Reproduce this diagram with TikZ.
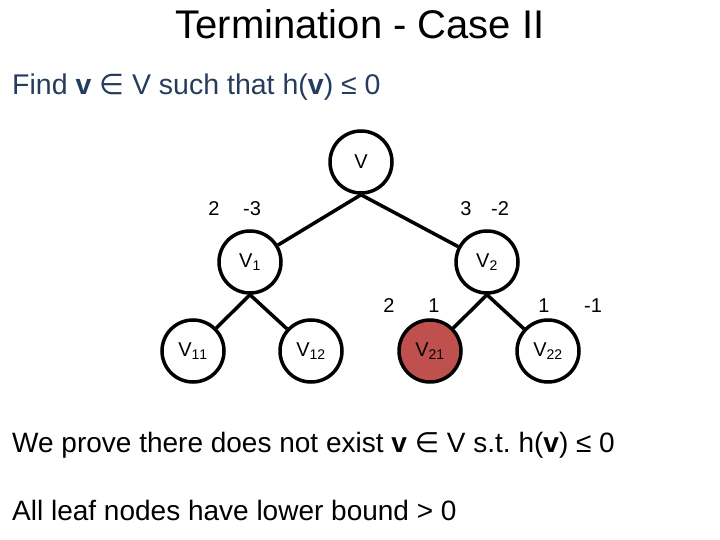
\documentclass[tikz,border=0pt]{standalone}
\usepackage{fontspec}
\setmainfont{Liberation Sans}
\newfontfamily\symfont{DejaVu Sans}
\definecolor{findblue}{RGB}{38,60,92}
\definecolor{leafred}{RGB}{192,80,77}
\newcommand{\elem}{{\symfont\char"2208}}
\frenchspacing
\begin{document}
\begin{tikzpicture}[x=1pt,y=-1pt,
  tnode/.style={circle,draw=black,line width=3.5pt,minimum size=62pt,inner sep=0pt,fill=white,font=\fontsize{20}{22}\selectfont},
  edge/.style={line width=3.5pt},
  lbl/.style={font=\fontsize{20}{24}\selectfont,anchor=base}]
\useasboundingbox (0,0) rectangle (720,540);
\node[anchor=base,font=\fontsize{40}{44}\selectfont] (title) at (360,39) {Termination - Case II};
\node[anchor=base west,inner sep=0pt,text=findblue,font=\fontsize{28.5}{32}\selectfont] (find) at (12,95) {Find \textbf{v} \elem{} V such that h(\textbf{v}) ≤ 0};
\node[tnode] (V) at (361,162) {V};
\node[tnode] (V1) at (250,262) {V$_{\mathrm{1}}$};
\node[tnode] (V2) at (487,262) {V$_{\mathrm{2}}$};
\node[tnode] (V11) at (193,351) {V$_{\mathrm{11}}$};
\node[tnode] (V12) at (311,351) {V$_{\mathrm{12}}$};
\node[tnode,fill=leafred] (V21) at (430,351) {V$_{\mathrm{21}}$};
\node[tnode] (V22) at (548,351) {V$_{\mathrm{22}}$};
\draw[edge] (V.south) -- (V1);
\draw[edge] (V.south) -- (V2);
\draw[edge] (V1.south) -- (V11);
\draw[edge] (V1.south) -- (V12);
\draw[edge] (V2.south) -- (V21);
\draw[edge] (V2.south) -- (V22);
\node[lbl] (l1a) at (214,215) {2};
\node[lbl] (l1b) at (252,215) {-3};
\node[lbl] (l2a) at (466,215) {3};
\node[lbl] (l2b) at (500,215) {-2};
\node[lbl] (l3) at (389,312) {2};
\node[lbl] (l4) at (434,312) {1};
\node[lbl] (l5) at (544,312) {1};
\node[lbl] (l6) at (593,312) {-1};
\node[anchor=base west,inner sep=0pt,font=\fontsize{28}{32}\selectfont] (prove) at (12,452) {We prove there does not exist \textbf{v} \elem{} V s.t. h(\textbf{v}) ≤ 0};
\node[anchor=base west,inner sep=0pt,font=\fontsize{28}{32}\selectfont] (leaf) at (12,520) {All leaf nodes have lower bound > 0};
\end{tikzpicture}
\end{document}
